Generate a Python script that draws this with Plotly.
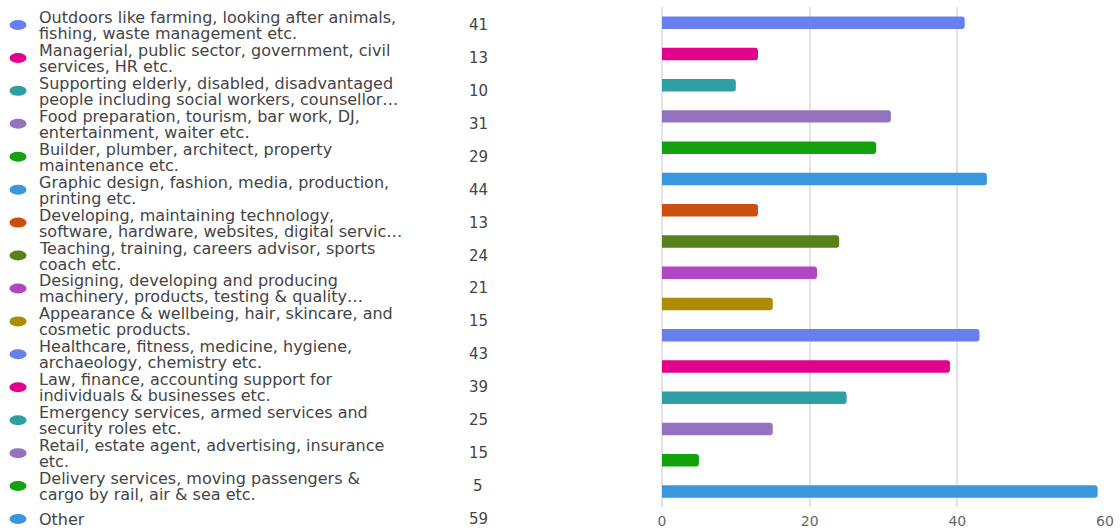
import plotly.graph_objects as go

# Survey categories, each split into the two display lines of the list
label_lines = [
    ["Outdoors like farming, looking after animals,", "fishing, waste management etc."],
    ["Managerial, public sector, government, civil", "services, HR etc."],
    ["Supporting elderly, disabled, disadvantaged", "people including social workers, counsellor…"],
    ["Food preparation, tourism, bar work, DJ,", "entertainment, waiter etc."],
    ["Builder, plumber, architect, property", "maintenance etc."],
    ["Graphic design, fashion, media, production,", "printing etc."],
    ["Developing, maintaining technology,", "software, hardware, websites, digital servic…"],
    ["Teaching, training, careers advisor, sports", "coach etc."],
    ["Designing, developing and producing", "machinery, products, testing & quality…"],
    ["Appearance & wellbeing, hair, skincare, and", "cosmetic products."],
    ["Healthcare, fitness, medicine, hygiene,", "archaeology, chemistry etc."],
    ["Law, finance, accounting support for", "individuals & businesses etc."],
    ["Emergency services, armed services and", "security roles etc."],
    ["Retail, estate agent, advertising, insurance", "etc."],
    ["Delivery services, moving passengers &", "cargo by rail, air & sea etc."],
    ["Other"],
]
categories = [" ".join(lines) for lines in label_lines]
values = [41, 13, 10, 31, 29, 44, 13, 24, 21, 15, 43, 39, 25, 15, 5, 59]
colors = [
    "#6780EE", "#E3008C", "#2EA0A4", "#9373C0", "#13A10E", "#3A96DD",
    "#CA5010", "#57811B", "#B146C2", "#AE8C00",
    "#6780EE", "#E3008C", "#2EA0A4", "#9373C0", "#13A10E", "#3A96DD",
]
x_ticks = [0, 20, 40, 60]

W, H = 1120, 532
FONT = "DejaVu Sans"
TEXT_COLOR = "#444444"
GRID_COLOR = "#e3e3e3"
CLEAR = "rgba(0,0,0,0)"

fig = go.Figure()

# Horizontal bars on the right
fig.add_trace(go.Bar(
    x=values,
    y=categories,
    orientation="h",
    width=0.4,
    marker=dict(color=colors, cornerradius=3, line=dict(width=0)),
    hoverinfo="x+y",
    xaxis="x",
    yaxis="y",
))

n = len(categories)
rows = list(range(n))

# Invisible anchor trace so the list subplot (x2/y2) exists
fig.add_trace(go.Scatter(
    x=[18] * n, y=rows, mode="markers",
    marker=dict(size=1, opacity=0), hoverinfo="skip",
    xaxis="x2", yaxis="y2",
))

shapes = []
annotations = []
for i, (lines, v, c) in enumerate(zip(label_lines, values, colors)):
    # oval bullet of the list row
    shapes.append(dict(
        type="circle", xref="x2", yref="y2",
        xsizemode="pixel", ysizemode="pixel",
        xanchor=18, yanchor=i,
        x0=-8.5, x1=8.5, y0=-5, y1=5,
        fillcolor=c, line=dict(width=0),
    ))
    shifts = [0] if len(lines) == 1 else [7.5, -8.5]
    for line, sh in zip(lines, shifts):
        annotations.append(dict(
            x=37, y=i, xref="x2", yref="y2", yshift=sh,
            text=line, showarrow=False, xanchor="left", yanchor="middle",
            font=dict(family=FONT, size=16, color=TEXT_COLOR),
        ))
    annotations.append(dict(
        x=478, y=i, xref="x2", yref="y2",
        text=str(v), showarrow=False, xanchor="center", yanchor="middle",
        font=dict(family=FONT, size=15, color=TEXT_COLOR),
    ))

# list rows: first centre at 25px, last at 519px from the top
row_px = (519 - 25) / (n - 1)
y2_top = -25 / row_px
y2_bottom = (n - 1) + (H - 519) / row_px

fig.update_layout(
    width=W, height=H,
    autosize=False,
    margin=dict(l=0, r=0, t=0, b=0, pad=0, autoexpand=False),
    paper_bgcolor="white",
    plot_bgcolor=CLEAR,
    showlegend=False,
    annotations=annotations,
    shapes=shapes,
    font=dict(family=FONT, color=TEXT_COLOR),
    xaxis=dict(
        domain=[662 / W, 1105 / W],
        range=[0, 60],
        tickvals=x_ticks,
        ticktext=[str(t) for t in x_ticks],
        showgrid=True, gridcolor=GRID_COLOR, gridwidth=2,
        zeroline=True, zerolinecolor=GRID_COLOR, zerolinewidth=2,
        showline=False, ticks="",
        ticklabelstandoff=4,
        tickfont=dict(family=FONT, size=14, color="#666666"),
        anchor="y",
        automargin=False,
        fixedrange=True,
    ),
    yaxis=dict(
        domain=[1 - 507 / H, 1 - 7 / H],
        categoryorder="array",
        categoryarray=categories,
        autorange="reversed",
        showticklabels=False,
        showgrid=False, zeroline=False, showline=False, ticks="",
        anchor="x",
        automargin=False,
        fixedrange=True,
    ),
    xaxis2=dict(
        domain=[0, 1], range=[0, W], visible=False,
        anchor="y2", automargin=False, fixedrange=True,
    ),
    yaxis2=dict(
        domain=[0, 1], range=[y2_bottom, y2_top], visible=False,
        anchor="x2", automargin=False, fixedrange=True,
    ),
)

fig.write_html("out.html")
